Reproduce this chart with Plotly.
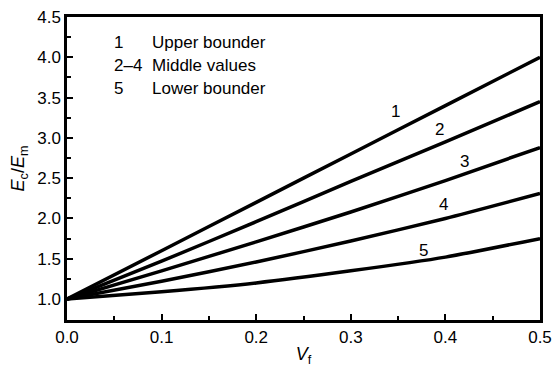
import plotly.graph_objects as go

# Fibre volume fraction
vf = [0.0, 0.1, 0.2, 0.3, 0.4, 0.5]

# Composite-to-matrix modulus ratio Ec/Em for each curve
upper = [1.0, 1.6, 2.2, 2.8, 3.4, 4.0]
mid_2 = [1.0, 1.47, 1.96, 2.46, 2.95, 3.45]
mid_3 = [1.0, 1.35, 1.71, 2.08, 2.47, 2.88]
mid_4 = [1.0, 1.22, 1.46, 1.72, 2.0, 2.31]
lower = [1.0, 1.09, 1.20, 1.35, 1.52, 1.75]

curves = [upper, mid_2, mid_3, mid_4, lower]
curve_names = ["1", "2", "3", "4", "5"]

# Curve number label positions (Vf, Ec/Em)
label_x = [0.347, 0.3935, 0.42, 0.3985, 0.377]
label_y = [3.33, 3.10, 2.71, 2.17, 1.60]

legend_nums = ["1", "2–4", "5"]
legend_texts = ["Upper bounder", "Middle values", "Lower bounder"]

FONT = "Liberation Sans, Arial, sans-serif"
FS = 17

W, H = 553, 374
L, R, T, B = 67, 13, 17, 54
pw, ph = W - L - R, H - T - B

fig = go.Figure()
for ys, name in zip(curves, curve_names):
    fig.add_trace(go.Scatter(
        x=vf, y=ys, mode="lines", name=name,
        line=dict(color="black", width=3.5, shape="spline", smoothing=0.6),
        showlegend=False,
    ))

for t, x, y in zip(curve_names, label_x, label_y):
    fig.add_annotation(x=x, y=y, text=t, showarrow=False,
                       font=dict(family=FONT, size=FS, color="black"))

# Key in the upper-left corner (pixel rows converted to paper coords)
for i, (n, t) in enumerate(zip(legend_nums, legend_texts)):
    ypix = 42 + i * 23
    yp = 1 - (ypix - T) / ph
    fig.add_annotation(x=(112 - L) / pw, y=yp, xref="paper", yref="paper", text=n,
                       showarrow=False, xanchor="left", yanchor="middle",
                       font=dict(family=FONT, size=FS, color="black"))
    fig.add_annotation(x=(150 - L) / pw, y=yp, xref="paper", yref="paper", text=t,
                       showarrow=False, xanchor="left", yanchor="middle",
                       font=dict(family=FONT, size=FS, color="black"))

axis_common = dict(
    showline=True, linecolor="black", linewidth=2.5, mirror=True,
    ticks="inside", ticklen=6, tickwidth=2, tickcolor="black",
    showgrid=False, zeroline=False, automargin=False,
    tickfont=dict(family=FONT, size=FS, color="black"),
)

fig.update_xaxes(
    range=[0, 0.5], dtick=0.1, tickformat=".1f",
    minor=dict(dtick=0.05, ticks="inside", ticklen=4, tickwidth=2, tickcolor="black", showgrid=False),
    title=dict(text="<i>V</i><sub>f</sub>", font=dict(family=FONT, size=18, color="black"), standoff=2),
    **axis_common,
)
fig.update_yaxes(
    range=[0.74, 4.5], tick0=1.0, dtick=0.5, tickformat=".1f",
    minor=dict(dtick=0.25, tick0=1.0, ticks="inside", ticklen=4, tickwidth=2, tickcolor="black", showgrid=False),
    title=dict(text="<i>E</i><sub>c</sub>/<i>E</i><sub>m</sub>", font=dict(family=FONT, size=18, color="black"), standoff=8),
    **axis_common,
)

fig.update_layout(
    width=W, height=H,
    margin=dict(l=L, r=R, t=T, b=B),
    plot_bgcolor="white", paper_bgcolor="white",
    font=dict(family=FONT, color="black"),
)

fig.write_html("out.html")
